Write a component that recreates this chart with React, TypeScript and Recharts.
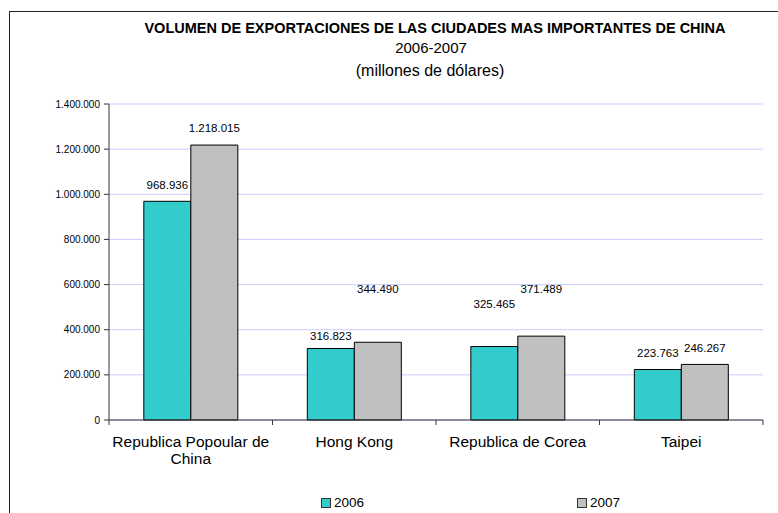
import React from "react";
import { BarChart, Bar, XAxis, YAxis, CartesianGrid, LabelList, Text } from "recharts";

const categories = ["Republica Popoular de China", "Hong Kong", "Republica de Corea", "Taipei"];
const exports2006 = [968936, 316823, 325465, 223763];
const exports2007 = [1218015, 344490, 371489, 246267];
const yTicks = [0, 200000, 400000, 600000, 800000, 1000000, 1200000, 1400000];

// how far above the bar top each value label sits (Excel left them hand placed)
const lift2006 = [12, 8, 39, 12];
const lift2007 = [13, 49, 43, 12];

const series = [
    { key: "y2006", name: "2006", color: "#33CCCC", lift: lift2006 },
    { key: "y2007", name: "2007", color: "#C0C0C0", lift: lift2007 },
];

const data = categories.map((name, i) => ({
    name,
    y2006: exports2006[i],
    y2007: exports2007[i],
}));

const fmt = (v: number) => String(v).replace(/\B(?=(\d{3})+(?!\d))/g, ".");

const FONT = "'Liberation Sans', Arial, sans-serif";
const TICK_SIZE = 5;
const TICK_MARGIN = 3;

// label under the category, plus Excel-style tick marks on the category edges
function CategoryTick(props: any) {
    const { x, y, payload, index, visibleTicksCount } = props;
    const half = payload.offset || 0;
    const axisY = y - TICK_SIZE - TICK_MARGIN;
    const isLast = index === visibleTicksCount - 1;
    return (
        <g>
            <line x1={x - half} x2={x - half} y1={axisY} y2={axisY + TICK_SIZE} stroke="#333" />
            {isLast && <line x1={x + half} x2={x + half} y1={axisY} y2={axisY + TICK_SIZE} stroke="#333" />}
            <Text
                x={x}
                y={y + 8}
                width={168}
                textAnchor="middle"
                verticalAnchor="start"
                fontSize={15.5}
                fontFamily={FONT}
                fill="#000"
                lineHeight={17}
                style={{ fontSize: 15.5, fontFamily: FONT }}
            >
                {payload.value}
            </Text>
        </g>
    );
}

const makeLabel = (lift: number[]) => (props: any) => {
    const { x, y, width, value, index } = props;
    return (
        <text
            x={x + width / 2}
            y={y - lift[index]}
            textAnchor="middle"
            fontSize={11.5}
            fontFamily={FONT}
            fill="#000"
        >
            {fmt(value)}
        </text>
    );
};

export default function App() {
    return (
        <div style={{ position: "fixed", left: 0, top: 0, width: 778, height: 513, overflow: "hidden", background: "#fff", fontFamily: FONT }}>
            <div style={{ position: "absolute", left: 9, top: 11, width: 800, height: 600, border: "1.5px solid #222", boxSizing: "border-box" }} />
            <div style={{ position: "absolute", left: 135, top: 19, width: 600, textAlign: "center", fontWeight: "bold", fontSize: 14.5, lineHeight: "18px" }}>
                VOLUMEN DE EXPORTACIONES DE LAS CIUDADES MAS IMPORTANTES DE CHINA
            </div>
            <div style={{ position: "absolute", left: 131, top: 39, width: 600, textAlign: "center", fontSize: 15, lineHeight: "18px" }}>
                2006-2007
            </div>
            <div style={{ position: "absolute", left: 130, top: 62, width: 600, textAlign: "center", fontSize: 16, lineHeight: "18px" }}>
                (millones de dólares)
            </div>
            <div style={{ position: "absolute", left: 0, top: 0 }}>
                <BarChart
                    width={778}
                    height={513}
                    data={data}
                    margin={{ top: 104, right: 15, bottom: 0, left: 0 }}
                    barCategoryGap="21.3%"
                    barGap={0}
                >
                    <CartesianGrid vertical={false} stroke="#CCCCFF" strokeWidth={1} />
                    <XAxis
                        dataKey="name"
                        stroke="#333"
                        tickLine={false}
                        tickSize={TICK_SIZE}
                        tickMargin={TICK_MARGIN}
                        height={93}
                        tick={<CategoryTick />}
                        interval={0}
                    />
                    <YAxis
                        domain={[0, 1400000]}
                        ticks={yTicks}
                        width={109}
                        tickSize={5}
                        tickMargin={4}
                        stroke="#333"
                        tick={{ fontSize: 10, fontFamily: FONT, fill: "#000" }}
                        tickFormatter={fmt}
                    />
                    {series.map((s) => (
                        <Bar
                            key={s.key}
                            dataKey={s.key}
                            name={s.name}
                            fill={s.color}
                            stroke="#000"
                            strokeWidth={1}
                            isAnimationActive={false}
                        >
                            <LabelList dataKey={s.key} content={makeLabel(s.lift)} />
                        </Bar>
                    ))}
                </BarChart>
            </div>
            {series.map((s, i) => (
                <div key={s.key} style={{ position: "absolute", left: 321 + i * 256, top: 495, display: "flex", alignItems: "center", fontSize: 13.5, lineHeight: "16px" }}>
                    <span style={{ display: "inline-block", width: 8, height: 8, background: s.color, border: "1px solid #333", marginRight: 3 }} />
                    {s.name}
                </div>
            ))}
        </div>
    );
}
